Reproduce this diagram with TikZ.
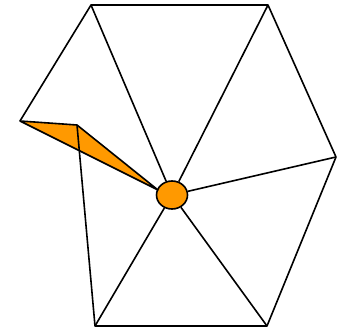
\documentclass[tikz,border=0pt]{standalone}
\usepackage{tikz}
\usetikzlibrary{shapes.geometric}
\definecolor{hub}{HTML}{FF9900}
\tikzset{
  edge/.style={draw=black,line width=1.6pt,line join=round},
  hubnode/.style={ellipse,draw=black,line width=1.6pt,fill=hub,minimum width=31pt,minimum height=28pt,inner sep=0pt},
  wedge/.style={edge,fill=hub},
}
\begin{document}
\begin{tikzpicture}[x=1pt,y=-1pt]
\useasboundingbox (0,0) rectangle (337,331);
% outer vertices
\coordinate (a) at (20,121);
\coordinate (b) at (77,125);
\coordinate (tl) at (91,5);
\coordinate (tr) at (268,5);
\coordinate (r) at (336,157);
\coordinate (br) at (267,326);
\coordinate (bl) at (95,326);
\coordinate (tip) at (158,190);
\node[hubnode] (c) at (172,195) {};
\draw[wedge] (a) -- (b) -- (tip) -- cycle;
\draw[edge] (a) -- (tl) -- (tr) -- (r) -- (br) -- (bl) -- (b);
\foreach \v in {tl,tr,r,br,bl} \draw[edge] (\v) -- (c);
\end{tikzpicture}
\end{document}
